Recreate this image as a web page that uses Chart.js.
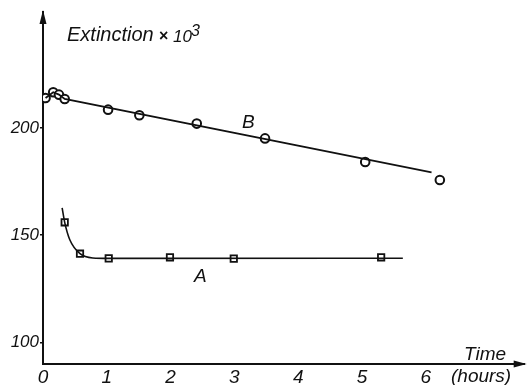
<!DOCTYPE html>
<html>
<head>
<meta charset="utf-8">
<script src="https://cdn.jsdelivr.net/npm/chart.js@4.4.1/dist/chart.umd.min.js"></script>
<style>
  body { margin: 0; background: #fff; }
  #wrap { width: 531px; height: 385px; }
</style>
</head>
<body>
<div id="wrap"><canvas id="myChart" width="531" height="385"></canvas></div>
<script>
// curve B: circles
const bTime = [0.04, 0.16, 0.25, 0.34, 1.02, 1.51, 2.41, 3.48, 5.05, 6.22];
const bExt = [213.9, 216.6, 215.5, 213.5, 208.5, 205.9, 202.0, 195.1, 184.1, 175.7];
// drawn line through B
const bLineTime = [0.04, 0.16, 0.25, 0.34, 6.09];
const bLineExt = [213.9, 216.6, 215.5, 213.5, 179.3];

// curve A: squares
const aTime = [0.34, 0.58, 1.03, 1.99, 2.99, 5.3];
const aExt = [156.0, 141.4, 139.2, 139.7, 139.1, 139.7];
// drawn curve through A
const aCurveTime = [0.30, 0.34, 0.42, 0.58, 0.78, 1.03, 5.64];
const aCurveExt = [162.7, 156.0, 147.9, 141.4, 139.4, 139.2, 139.3];

const xTicks = [0, 1, 2, 3, 4, 5, 6];
const yTicks = [100, 150, 200];

const ink = '#111';
const italic = (size) => ({ family: 'Liberation Sans', size: size, style: 'italic' });

function pts(xs, ys) {
  return xs.map((x, i) => ({ x: x, y: ys[i] }));
}

const extras = {
  id: 'extras',
  afterDraw(chart) {
    const ctx = chart.ctx;
    const a = chart.chartArea;
    ctx.save();
    ctx.fillStyle = ink;
    // arrow heads
    ctx.beginPath();
    ctx.moveTo(a.left, a.top - 2);
    ctx.lineTo(a.left - 3.5, a.top + 12);
    ctx.lineTo(a.left + 3.5, a.top + 12);
    ctx.closePath();
    ctx.fill();
    ctx.beginPath();
    ctx.moveTo(a.right + 2, a.bottom);
    ctx.lineTo(a.right - 11, a.bottom - 3.5);
    ctx.lineTo(a.right - 11, a.bottom + 3.5);
    ctx.closePath();
    ctx.fill();

    ctx.textBaseline = 'alphabetic';
    ctx.textAlign = 'left';
    ctx.font = 'italic 20px "Liberation Sans"';
    ctx.fillText('Extinction', 67, 41);
    ctx.font = 'bold 16px "Liberation Sans"';
    ctx.fillText('\u00d7', 159, 41);
    ctx.font = 'italic 17px "Liberation Sans"';
    ctx.fillText('10', 173, 42);
    ctx.font = 'italic 16px "Liberation Sans"';
    ctx.fillText('3', 191, 36);

    ctx.font = 'italic 19px "Liberation Sans"';
    ctx.fillText('B', 242, 128);
    ctx.fillText('A', 194, 282);
    ctx.fillText('Time', 464, 360);
    ctx.fillText('(hours)', 451, 382);
    ctx.restore();
  }
};

const config = {
  type: 'scatter',
  data: {
    datasets: [
      {
        data: pts(bLineTime, bLineExt),
        showLine: true,
        borderColor: ink,
        borderWidth: 1.8,
        pointRadius: 0,
        tension: 0
      },
      {
        data: pts(aCurveTime, aCurveExt),
        showLine: true,
        borderColor: ink,
        borderWidth: 1.6,
        pointRadius: 0,
        cubicInterpolationMode: 'monotone'
      },
      {
        data: pts(bTime, bExt),
        showLine: false,
        pointStyle: 'circle',
        pointRadius: 4.3,
        pointBorderWidth: 2,
        pointBorderColor: ink,
        pointBackgroundColor: '#fff'
      },
      {
        data: pts(aTime, aExt),
        showLine: false,
        pointStyle: 'rect',
        pointRadius: 4.5,
        pointBorderWidth: 1.8,
        pointBorderColor: ink,
        pointBackgroundColor: '#fff'
      }
    ]
  },
  options: {
    responsive: false,
    animation: false,
    layout: { padding: { top: 12, right: 3, left: 0, bottom: 0 } },
    scales: {
      x: {
        type: 'linear',
        min: 0,
        max: 7.55,
        afterBuildTicks: (s) => { s.ticks = xTicks.map(v => ({ value: v })); },
        afterFit: (s) => { s.height = 21; },
        grid: { display: false },
        border: { display: true, color: ink, width: 2 },
        ticks: { color: ink, font: italic(19), padding: -6, maxRotation: 0 }
      },
      y: {
        min: 90,
        max: 254,
        afterBuildTicks: (s) => { s.ticks = yTicks.map(v => ({ value: v })); },
        afterFit: (s) => { s.width = 43; },
        grid: { display: true, drawOnChartArea: false, drawTicks: true, tickLength: 3, color: ink, lineWidth: 1.5 },
        border: { display: true, color: ink, width: 2 },
        ticks: { color: ink, font: italic(17), padding: 1 }
      }
    },
    plugins: {
      legend: { display: false },
      tooltip: { enabled: false }
    }
  },
  plugins: [extras]
};

const myChart = new Chart(document.getElementById('myChart'), config);
</script>
</body>
</html>
